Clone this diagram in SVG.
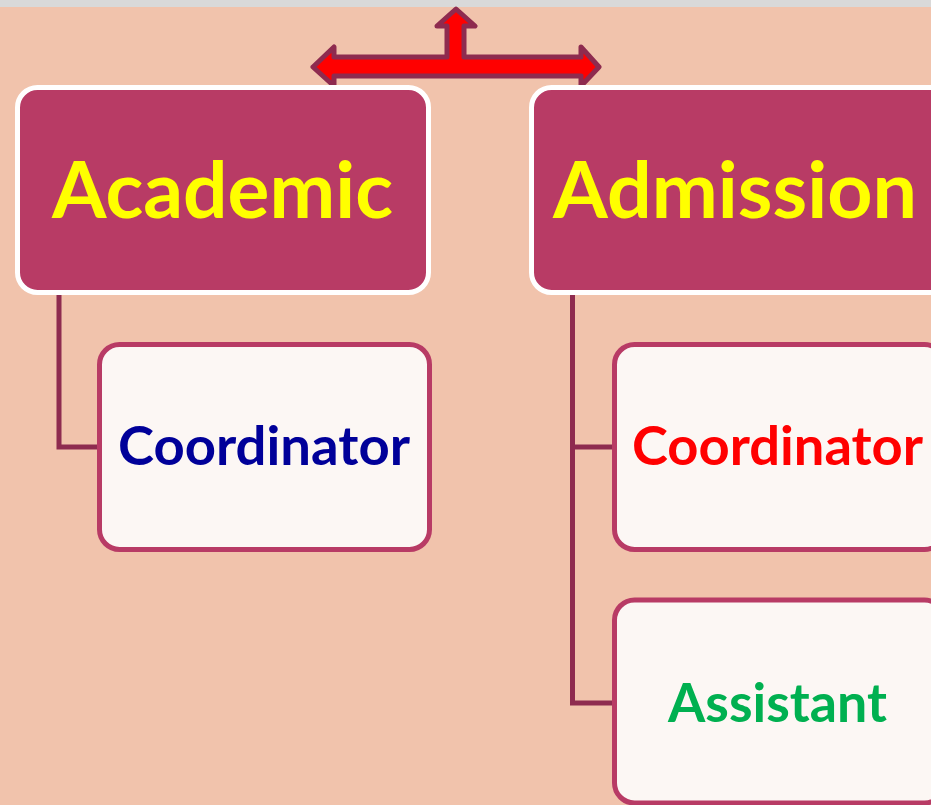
<svg xmlns="http://www.w3.org/2000/svg" width="931" height="805" viewBox="0 0 931 805">
<style>
.head{fill:#B83B65;stroke:#FFFFFF;stroke-width:5}
.sub{fill:#FCF7F4;stroke:#B83B65;stroke-width:5}
.conn{fill:none;stroke:#8E2B4F;stroke-width:5;stroke-linejoin:miter;stroke-linecap:square}
.ht{font-family:Lato,"Open Sans",sans-serif;font-weight:bold;font-size:78px;fill:#FFFF00}
.st{font-family:Lato,"Open Sans",sans-serif;font-weight:bold;font-size:53px}
</style>
<rect x="0" y="0" width="931" height="805" fill="#F1C3AC"/>
<rect x="0" y="0" width="931" height="7" fill="#D9D9D9"/>
<g id="arrow">
<path d="M456,9 L475,26 L464,26 L464,57 L581,57 L581,47 L599,67 L581,86 L581,76 L334,76 L334,86 L313,67 L334,47 L334,57 L447,57 L447,26 L437,26 Z" fill="#FF0000" stroke="#8E2B4F" stroke-width="5" stroke-linejoin="round"/>
</g>
<g id="connectors">
<path class="conn" d="M59,295 L59,447 L98,447"/>
<path class="conn" d="M572.5,295 L572.5,703 L613,703 M572.5,447 L613,447"/>
</g>
<g id="academic">
<rect class="head" x="17.5" y="87.5" width="411" height="205" rx="20"/>
<text class="ht" x="52" y="218" textLength="341" lengthAdjust="spacingAndGlyphs">Academic</text>
</g>
<g id="admission">
<rect class="head" x="531.5" y="87.5" width="420" height="205" rx="20"/>
<text class="ht" x="553" y="218" textLength="364" lengthAdjust="spacingAndGlyphs">Admission</text>
</g>
<g id="academic-coordinator">
<rect class="sub" x="99.5" y="344.5" width="330" height="205" rx="20"/>
<text class="st" x="118" y="465" fill="#000099" textLength="292" lengthAdjust="spacingAndGlyphs">Coordinator</text>
</g>
<g id="admission-coordinator">
<rect class="sub" x="614.5" y="344.5" width="330" height="205" rx="20"/>
<text class="st" x="632" y="465" fill="#FF0000" textLength="291" lengthAdjust="spacingAndGlyphs">Coordinator</text>
</g>
<g id="admission-assistant">
<rect class="sub" x="614.5" y="600" width="330" height="203" rx="20"/>
<text class="st" x="668" y="722" fill="#00B050" textLength="219" lengthAdjust="spacingAndGlyphs">Assistant</text>
</g>
</svg>
